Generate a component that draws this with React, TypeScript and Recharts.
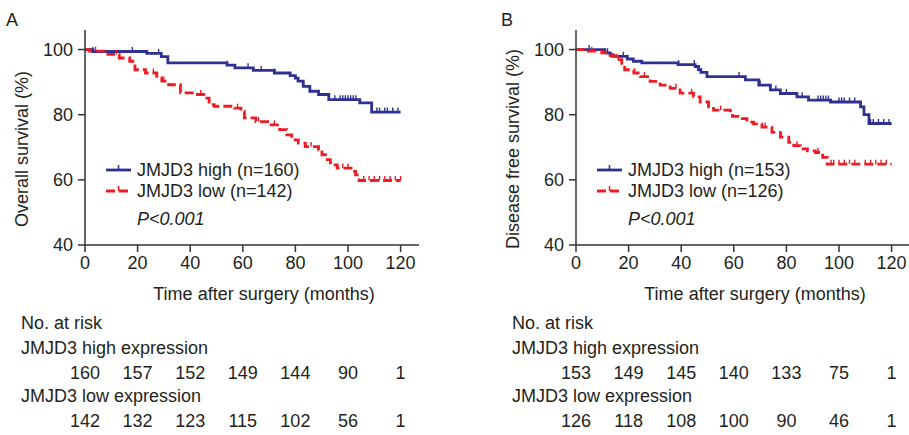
import { ComposedChart, Line, Scatter, XAxis, YAxis, Label } from "recharts"

// Kaplan-Meier steps: [month, survival %]
const osHigh: [number, number][] = [
  [0, 100], [3, 99.4], [23.5, 98.8], [29, 97.8], [31.5, 95.9], [54, 95.2], [57, 94.4],
  [64, 93.6], [72, 92.8], [78, 92], [80, 91.2], [81, 90.3], [83, 88.7], [85.5, 87.2],
  [88.8, 86.2], [92.7, 84.6], [104.5, 83.6], [109, 80.8], [120, 80.8],
]
const osLow: [number, number][] = [
  [0, 100], [1.7, 99.5], [8.7, 98.5], [13, 97.4], [17, 96.4], [19, 93.8], [23, 92.8],
  [27.3, 91.3], [29.2, 90.3], [31.8, 89.2], [36.3, 86.7], [41.4, 86.2], [45.2, 85.1],
  [47.2, 83.1], [49.1, 82.6], [56.8, 82], [59.3, 81], [60.6, 79], [65, 77.9], [70.2, 76.9],
  [74, 75.4], [76.7, 73.8], [78.6, 72.3], [81.1, 71.3], [83.7, 70.2], [88.8, 69.2],
  [90.1, 67.7], [91.4, 66.2], [93.3, 64.6], [95.9, 63.6], [101.7, 62.6], [102.9, 61.5],
  [104.2, 59.8], [120, 59.8],
]
const dfsHigh: [number, number][] = [
  [0, 100], [11, 99], [13, 98.4], [14, 97.9], [19.5, 97.1], [21.8, 96.4], [25, 95.9],
  [38.8, 95.4], [45.3, 94.8], [46.6, 93.8], [47.5, 93], [49.8, 91.7], [64.4, 90.7],
  [69.5, 89.1], [73.9, 87.6], [77.7, 86.5], [84, 85.5], [88.4, 84.5], [96.8, 83.9],
  [108.2, 82.4], [109.5, 80], [111.4, 77.3], [120, 77.3],
]
const dfsLow: [number, number][] = [
  [0, 100], [4.7, 99.5], [9.8, 99], [12.3, 98.1], [15.5, 96.9], [17.4, 95.3], [18.5, 93.8],
  [22, 92.8], [24.4, 91.7], [28.2, 90.2], [32, 89.1], [35.8, 88.1], [39.6, 86.6],
  [44.7, 85.5], [47.2, 83.9], [50.4, 82.4], [52.3, 81.4], [58.7, 80.3], [59.5, 79.5],
  [62.5, 78.8], [65, 77.7], [67.5, 77.2], [70.7, 76.2], [74.5, 74.6], [77.7, 73.1],
  [80.9, 71.5], [82.8, 70.5], [85.3, 69.5], [88, 68.9], [91, 68.4], [93.8, 66.9],
  [95.5, 64.8], [120, 64.8],
]

// censoring marks (months)
const osHighCensor = [3, 18, 28, 54, 62, 67, 72, 95, 97, 98, 99, 100, 101, 102, 103, 111, 112, 114, 115, 117, 119]
const osLowCensor = [4, 12, 26, 30, 44, 58, 66, 72, 84, 86, 98, 100, 106, 108, 110, 112, 114, 116, 118, 120]
const dfsHighCensor = [5, 12, 18, 39, 45, 62, 70, 76, 80, 86, 92, 93, 94, 95, 96, 100, 101, 102, 104, 106, 112, 113, 115, 117, 119]
const dfsLowCensor = [6, 16, 26, 38, 44, 55, 72, 78, 84, 92, 97, 98, 100, 102, 104, 106, 110, 112, 114, 116, 118]

const monthTicks = [0, 20, 40, 60, 80, 100, 120]
const pctTicks = [40, 60, 80, 100]

// numbers at risk under each month tick
const osRiskHigh = [160, 157, 152, 149, 144, 90, 1]
const osRiskLow = [142, 132, 123, 115, 102, 56, 1]
const dfsRiskHigh = [153, 149, 145, 140, 133, 75, 1]
const dfsRiskLow = [126, 118, 108, 100, 90, 46, 1]

const FONT = "'Liberation Sans', Arial, sans-serif"
const INK = "#231f20"
const BLUE = "#2e3192"
const RED = "#ed1c24"

const toRows = (pts: [number, number][]) => pts.map(([m, v]) => ({ m, v }))

// place a censor mark on the step curve it belongs to
const censorRows = (months: number[], curve: [number, number][]) =>
  months.map((m) => {
    let v = curve[0][1]
    for (const [t, s] of curve) if (t <= m) v = s
    return { m, v }
  })

const tickShape = (color: string) => (p: any) =>
  <line x1={p.cx} y1={p.cy - 4.5} x2={p.cx} y2={p.cy} stroke={color} strokeWidth={1.4} />

interface PanelProps {
  left: number
  letter: string
  yTitle: string
  high: [number, number][]
  low: [number, number][]
  highCensor: number[]
  lowCensor: number[]
  highName: string
  lowName: string
  riskHigh: number[]
  riskLow: number[]
}

function Panel({ left, letter, yTitle, high, low, highCensor, lowCensor, highName, lowName, riskHigh, riskLow }: PanelProps) {
  const txt = { fontFamily: FONT, fontSize: 18, color: INK, position: "absolute" as const, whiteSpace: "nowrap" as const, lineHeight: "20px" }

  const renderTick = (p: any) => {
    const i = monthTicks.indexOf(p.payload.value)
    return (
      <g>
        <text x={p.x} y={p.y} dy="0.71em" textAnchor="middle" fill={INK} fontSize={18} fontFamily={FONT}>
          {p.payload.value}
        </text>
        <text x={p.x} y={p.y + 122.5} textAnchor="middle" fill={INK} fontSize={18} fontFamily={FONT}>
          {riskHigh[i]}
        </text>
        <text x={p.x} y={p.y + 170.5} textAnchor="middle" fill={INK} fontSize={18} fontFamily={FONT}>
          {riskLow[i]}
        </text>
      </g>
    )
  }

  return (
    <div style={{ position: "absolute", left, top: 0, width: 420, height: 435 }}>
      <ComposedChart width={420} height={435} margin={{ top: 30, right: 1, left: 0, bottom: 150 }}>
        <XAxis
          dataKey="m"
          type="number"
          domain={[0, 127]}
          ticks={monthTicks}
          height={40}
          tickSize={7}
          tickMargin={4}
          stroke="#333"
          strokeWidth={1.5}
          tick={renderTick}
          allowDataOverflow
        >
          <Label
            content={() => (
              <text x={264} y={299.5} textAnchor="middle" fill={INK} fontSize={18} fontFamily={FONT}>
                Time after surgery (months)
              </text>
            )}
          />
        </XAxis>
        <YAxis
          type="number"
          domain={[40, 106]}
          ticks={pctTicks}
          width={85}
          tickSize={7}
          tickMargin={5}
          stroke="#333"
          strokeWidth={1.5}
          tick={{ fill: INK, fontSize: 18, fontFamily: FONT }}
          allowDataOverflow
        >
          <Label
            content={() => (
              <text
                x={22}
                y={149}
                transform="rotate(-90, 22, 149)"
                textAnchor="middle"
                dominantBaseline="central"
                fill={INK}
                fontSize={18}
                fontFamily={FONT}
              >
                {yTitle}
              </text>
            )}
          />
        </YAxis>
        <Line
          data={toRows(high)}
          dataKey="v"
          type="stepAfter"
          stroke={BLUE}
          strokeWidth={2.8}
          dot={false}
          isAnimationActive={false}
        />
        <Line
          data={toRows(low)}
          dataKey="v"
          type="stepAfter"
          stroke={RED}
          strokeWidth={2.8}
          strokeDasharray="9 4"
          dot={false}
          isAnimationActive={false}
        />
        <Scatter data={censorRows(highCensor, high)} dataKey="v" shape={tickShape(BLUE)} isAnimationActive={false} />
        <Scatter data={censorRows(lowCensor, low)} dataKey="v" shape={tickShape(RED)} isAnimationActive={false} />
      </ComposedChart>

      <div style={{ ...txt, left: letter === "A" ? 6 : 10, top: 10 }}>{letter}</div>

      {/* legend */}
      <svg style={{ position: "absolute", left: 106, top: 160 }} width={26} height={42}>
        <line x1={0} y1={10} x2={25} y2={10} stroke={BLUE} strokeWidth={2.8} />
        <line x1={12.5} y1={5} x2={12.5} y2={10} stroke={BLUE} strokeWidth={1.5} />
        <line x1={0} y1={31} x2={25} y2={31} stroke={RED} strokeWidth={2.8} strokeDasharray="9 4" />
        <line x1={12.5} y1={26} x2={12.5} y2={31} stroke={RED} strokeWidth={1.5} />
      </svg>
      <div style={{ ...txt, left: 137, top: 160 }}>{highName}</div>
      <div style={{ ...txt, left: 137, top: 181 }}>{lowName}</div>
      <div style={{ ...txt, left: 137, top: 209, fontStyle: "italic" }}>P&lt;0.001</div>

      {/* risk table row labels */}
      <div style={{ ...txt, left: 21, top: 313 }}>No. at risk</div>
      <div style={{ ...txt, left: 21, top: 338 }}>JMJD3 high expression</div>
      <div style={{ ...txt, left: 21, top: 386 }}>JMJD3 low expression</div>
    </div>
  )
}

export default function App() {
  return (
    <div style={{ position: "absolute", left: 0, top: 0, width: 909, height: 435, background: "#fff", overflow: "hidden" }}>
      <Panel
        left={0}
        letter="A"
        yTitle="Overall survival (%)"
        high={osHigh}
        low={osLow}
        highCensor={osHighCensor}
        lowCensor={osLowCensor}
        highName="JMJD3 high (n=160)"
        lowName="JMJD3 low (n=142)"
        riskHigh={osRiskHigh}
        riskLow={osRiskLow}
      />
      <Panel
        left={491}
        letter="B"
        yTitle="Disease free survival (%)"
        high={dfsHigh}
        low={dfsLow}
        highCensor={dfsHighCensor}
        lowCensor={dfsLowCensor}
        highName="JMJD3 high (n=153)"
        lowName="JMJD3 low (n=126)"
        riskHigh={dfsRiskHigh}
        riskLow={dfsRiskLow}
      />
    </div>
  )
}
